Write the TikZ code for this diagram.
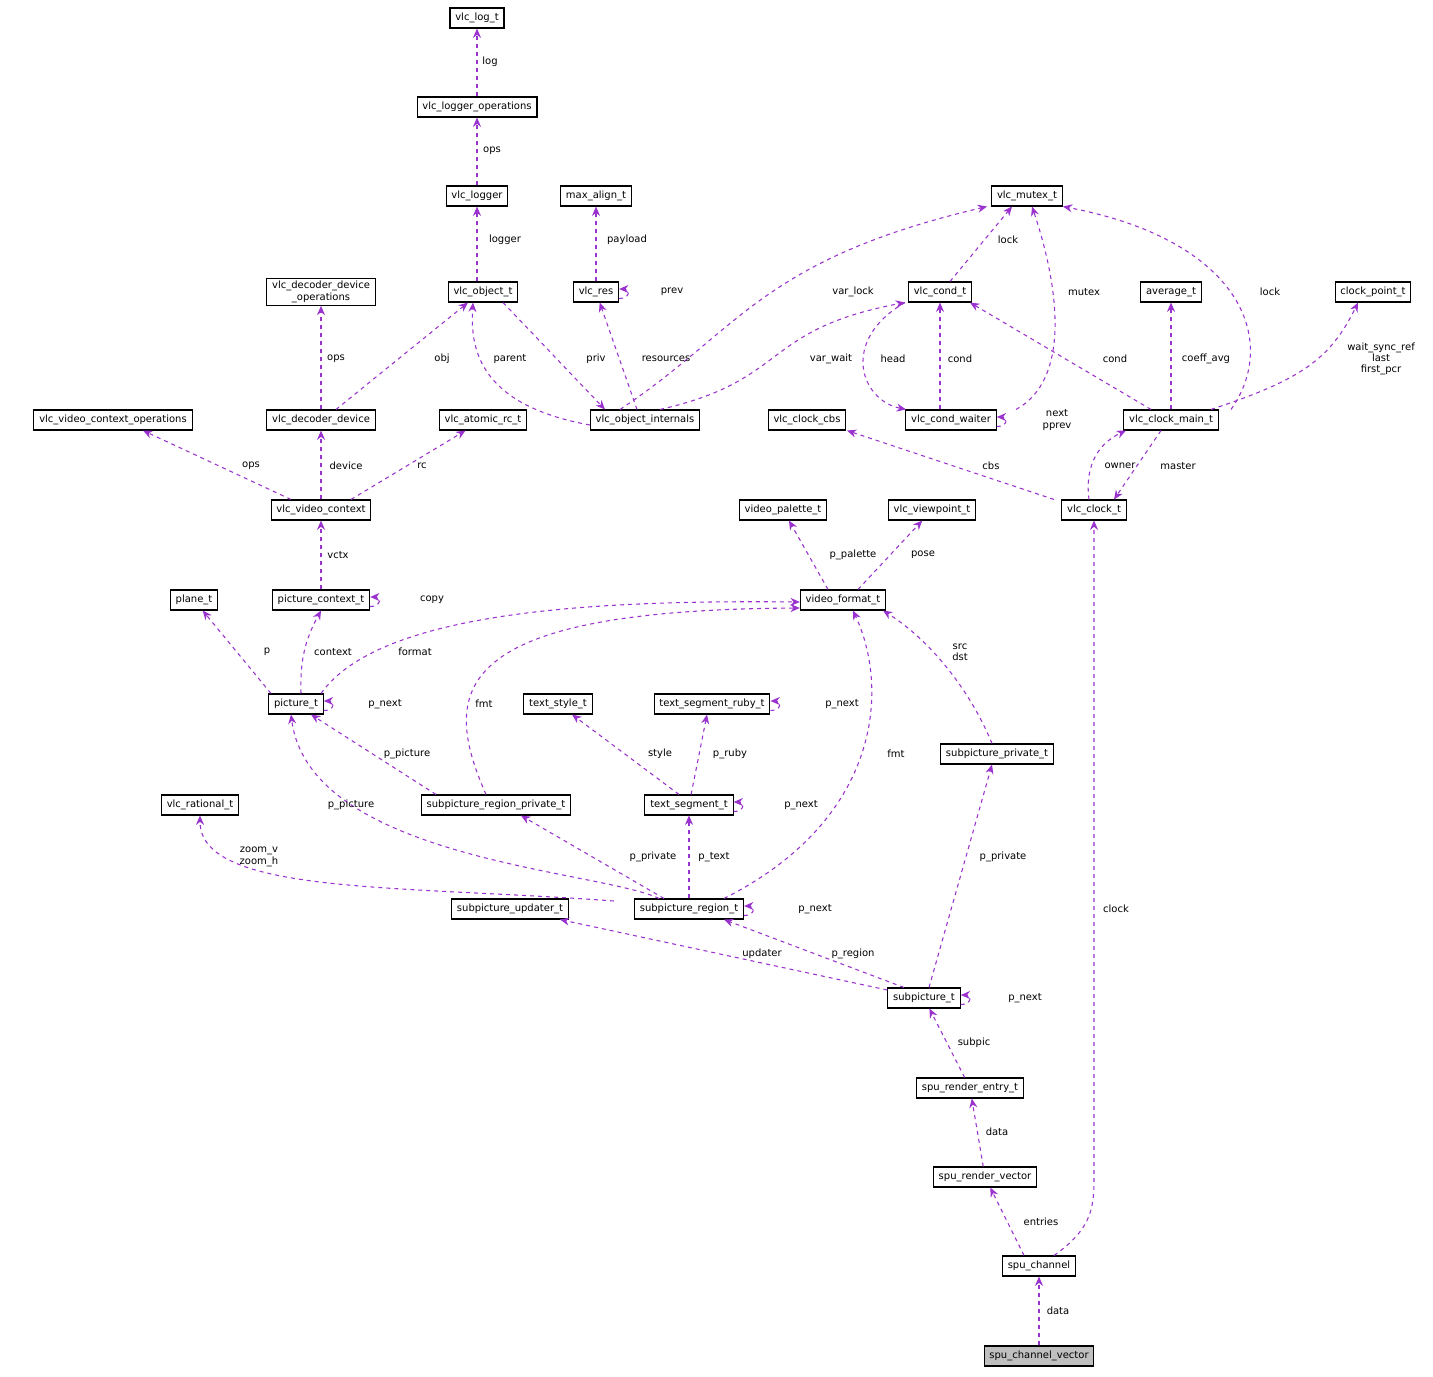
\documentclass[tikz,border=0pt]{standalone}
\usepackage{fontspec}
\setmainfont{DejaVu Sans}
\usetikzlibrary{arrows.meta,calc}
\definecolor{deppurple}{HTML}{9A32CD}
\tikzset{
  cls/.style={draw,line width=0.8pt,fill=white,inner xsep=4pt,inner ysep=2pt,minimum height=15pt,font=\fontsize{7.5}{8.5}\selectfont,align=center},
  dep/.style={draw=deppurple,dashed,line width=0.8pt,-{Stealth[length=7pt,width=6pt]}},
  lbl/.style={font=\fontsize{7.5}{8.5}\selectfont,align=center,inner sep=0pt}
}
\begin{document}
\begin{tikzpicture}[x=0.75pt,y=-0.75pt]
  \useasboundingbox (0,0) rectangle (1433,1376);

  % classes
  \node[cls] (logt)    at (477,18)  {vlc\_log\_t};
  \node[cls] (logops)  at (477,107) {vlc\_logger\_operations};
  \node[cls] (logger)  at (477,196) {vlc\_logger};
  \node[cls] (maxal)   at (596,196) {max\_align\_t};
  \node[cls] (mutex)   at (1027,196) {vlc\_mutex\_t};
  \node[cls] (decops)  at (321,292) {vlc\_decoder\_device\\\_operations};
  \node[cls] (objt)    at (483,292) {vlc\_object\_t};
  \node[cls] (res)     at (596,292) {vlc\_res};
  \node[cls] (cond)    at (940,292) {vlc\_cond\_t};
  \node[cls] (avg)     at (1171,292) {average\_t};
  \node[cls] (clkpt)   at (1373,292) {clock\_point\_t};
  \node[cls] (vcops)   at (113,420) {vlc\_video\_context\_operations};
  \node[cls] (decdev)  at (321,420) {vlc\_decoder\_device};
  \node[cls] (atomic)  at (483,420) {vlc\_atomic\_rc\_t};
  \node[cls] (objint)  at (645,420) {vlc\_object\_internals};
  \node[cls] (clkcbs)  at (807,420) {vlc\_clock\_cbs};
  \node[cls] (waiter)  at (951,420) {vlc\_cond\_waiter};
  \node[cls] (clkmain) at (1171,420) {vlc\_clock\_main\_t};
  \node[cls] (vctx)    at (321,510) {vlc\_video\_context};
  \node[cls] (vpal)    at (783,510) {video\_palette\_t};
  \node[cls] (vview)   at (932,510) {vlc\_viewpoint\_t};
  \node[cls] (clk)     at (1094,510) {vlc\_clock\_t};
  \node[cls] (plane)   at (194,600) {plane\_t};
  \node[cls] (picctx)  at (321,600) {picture\_context\_t};
  \node[cls] (vfmt)    at (843,600) {video\_format\_t};
  \node[cls] (pic)     at (296,704) {picture\_t};
  \node[cls] (tstyle)  at (558,704) {text\_style\_t};
  \node[cls] (truby)   at (712,704) {text\_segment\_ruby\_t};
  \node[cls] (subpriv) at (997,754) {subpicture\_private\_t};
  \node[cls] (rat)     at (200,805) {vlc\_rational\_t};
  \node[cls] (regpriv) at (496,805) {subpicture\_region\_private\_t};
  \node[cls] (tseg)    at (689,805) {text\_segment\_t};
  \node[cls] (upd)     at (510,909) {subpicture\_updater\_t};
  \node[cls] (subreg)  at (689,909) {subpicture\_region\_t};
  \node[cls] (sub)     at (924,998) {subpicture\_t};
  \node[cls] (entry)   at (970,1088) {spu\_render\_entry\_t};
  \node[cls] (rvec)    at (985,1177) {spu\_render\_vector};
  \node[cls] (chan)    at (1039,1266) {spu\_channel};
  \node[cls,fill=black!25] (chanvec) at (1039,1356) {spu\_channel\_vector};

  % dependencies
  \draw[dep] (logops) -- (logt);
  \draw[dep] (logger) -- (logops);
  \draw[dep] ($(objt.north)+(-6,0)$) -- (logger);
  \draw[dep] (res) -- (maxal);
  \draw[dep] ($(res.south east)+(0,-4)$) to[out=0,in=0,looseness=3] ($(res.east)+(0,-3)$);
  \draw[dep] (decdev) -- (decops);
  \draw[dep] ($(decdev.north)+(15,0)$) -- ($(objt.south)+(-15,0)$);
  \draw[dep] ($(objint.west)+(0,5)$) .. controls (480,405) and (470,350) .. ($(objt.south)+(-10,0)$);
  \draw[dep] ($(objt.south)+(20,0)$) -- ($(objint.north)+(-40,0)$);
  \draw[dep] ($(objint.north)+(-8,0)$) -- (res);
  \draw[dep] ($(objint.north)+(-25,0)$) .. controls (740,330) and (760,260) .. ($(mutex.south)+(-40,0)$);
  \draw[dep] ($(objint.north)+(15,0)$) .. controls (790,380) and (760,330) .. ($(cond.south)+(-35,0)$);
  \draw[dep] ($(cond.north)+(10,0)$) -- ($(mutex.south)+(-15,0)$);
  \draw[dep] ($(cond.south)+(-35,0)$) .. controls (840,340) and (860,400) .. ($(waiter.north)+(-45,0)$);
  \draw[dep] ($(waiter.north)+(-11,0)$) -- (cond.south);
  \draw[dep] ($(waiter.north)+(65,0)$) .. controls (1070,380) and (1060,290) .. ($(mutex.south)+(5,0)$);
  \draw[dep] ($(waiter.south east)+(0,-4)$) to[out=0,in=0,looseness=3] ($(waiter.east)+(0,-3)$);
  \draw[dep] ($(clkmain.north)+(-20,0)$) -- ($(cond.south)+(30,0)$);
  \draw[dep] (clkmain) -- (avg);
  \draw[dep] ($(clkmain.north)+(60,0)$) .. controls (1280,340) and (1240,240) .. ($(mutex.south east)+(0,0)$);
  \draw[dep] ($(clkmain.north)+(40,0)$) .. controls (1300,380) and (1330,360) .. ($(clkpt.south)+(-15,0)$);
  \draw[dep] ($(vctx.north)+(-30,0)$) -- ($(vcops.south)+(30,0)$);
  \draw[dep] (vctx) -- (decdev);
  \draw[dep] ($(vctx.north)+(30,0)$) -- (atomic);
  \draw[dep] ($(clk.north)+(-40,0)$) -- ($(clkcbs.south)+(40,0)$);
  \draw[dep] ($(clk.north)+(-5,0)$) .. controls (1085,470) and (1095,445) .. ($(clkmain.south)+(-45,0)$);
  \draw[dep] ($(clkmain.south)+(-10,0)$) -- ($(clk.north)+(20,0)$);
  \draw[dep] (picctx) -- (vctx);
  \draw[dep] ($(picctx.south east)+(0,-4)$) to[out=0,in=0,looseness=3] ($(picctx.east)+(0,-3)$);
  \draw[dep] ($(vfmt.north)+(-15,0)$) -- (vpal);
  \draw[dep] ($(vfmt.north)+(15,0)$) -- (vview);
  \draw[dep] ($(pic.north)+(-25,0)$) -- (plane);
  \draw[dep] ($(pic.north)+(5,0)$) .. controls (300,660) and (305,640) .. (picctx.south);
  \draw[dep] ($(pic.north)+(25,0)$) .. controls (380,610) and (600,600) .. ($(vfmt.west)+(0,2)$);
  \draw[dep] ($(pic.south east)+(0,-4)$) to[out=0,in=0,looseness=3] ($(pic.east)+(0,-3)$);
  \draw[dep] ($(regpriv.north)+(-10,0)$) .. controls (440,690) and (450,610) .. ($(vfmt.west)+(0,8)$);
  \draw[dep] ($(regpriv.north)+(-60,0)$) -- ($(pic.south)+(15,0)$);
  \draw[dep] ($(tseg.north)+(-10,0)$) -- (tstyle);
  \draw[dep] (tseg) -- ($(truby.south)+(-5,0)$);
  \draw[dep] ($(truby.south east)+(0,-4)$) to[out=0,in=0,looseness=3] ($(truby.east)+(0,-3)$);
  \draw[dep] ($(tseg.south east)+(0,-4)$) to[out=0,in=0,looseness=3] ($(tseg.east)+(0,-3)$);
  \draw[dep] ($(subreg.north)+(35,0)$) .. controls (880,820) and (890,690) .. ($(vfmt.south)+(10,0)$);
  \draw[dep] ($(subpriv.north)+(-5,0)$) .. controls (970,690) and (930,640) .. ($(vfmt.south)+(40,0)$);
  \draw[dep] ($(subreg.north)+(-30,0)$) .. controls (600,870) and (310,860) .. ($(pic.south)+(-5,0)$);
  \draw[dep] ($(subreg.west)+(-20,-8)$) .. controls (400,885) and (200,895) .. (rat.south);
  \draw[dep] ($(subreg.north)+(-25,0)$) -- ($(regpriv.south)+(25,0)$);
  \draw[dep] (subreg) -- (tseg);
  \draw[dep] ($(subreg.south east)+(0,-4)$) to[out=0,in=0,looseness=3] ($(subreg.east)+(0,-3)$);
  \draw[dep] ($(sub.west)+(0,-8)$) -- ($(upd.south)+(50,0)$);
  \draw[dep] ($(sub.north)+(-20,0)$) -- ($(subreg.south)+(35,0)$);
  \draw[dep] ($(sub.north)+(5,0)$) -- ($(subpriv.south)+(-5,0)$);
  \draw[dep] ($(sub.south east)+(0,-4)$) to[out=0,in=0,looseness=3] ($(sub.east)+(0,-3)$);
  \draw[dep] (entry) -- (sub);
  \draw[dep] (rvec) -- (entry);
  \draw[dep] ($(chan.north)+(-15,0)$) -- (rvec);
  \draw[dep] ($(chan.north)+(15,0)$) .. controls (1090,1230) and (1094,1210) .. (1094,1180) -- (clk.south);
  \draw[dep] (chanvec) -- (chan);

  % labels
  \node[lbl] at (490,62) {log};
  \node[lbl] at (492,151) {ops};
  \node[lbl] at (505,240) {logger};
  \node[lbl] at (627,240) {payload};
  \node[lbl] at (672,292) {prev};
  \node[lbl] at (336,359) {ops};
  \node[lbl] at (442,359) {obj};
  \node[lbl] at (510,359) {parent};
  \node[lbl] at (596,359) {priv};
  \node[lbl] at (666,359) {resources};
  \node[lbl] at (853,292) {var\_lock};
  \node[lbl] at (831,359) {var\_wait};
  \node[lbl] at (1008,240) {lock};
  \node[lbl] at (893,359) {head};
  \node[lbl] at (960,359) {cond};
  \node[lbl] at (1084,292) {mutex};
  \node[lbl] at (1057,420) {next\\pprev};
  \node[lbl] at (1270,292) {lock};
  \node[lbl] at (1115,359) {cond};
  \node[lbl] at (1206,359) {coeff\_avg};
  \node[lbl] at (1381,359) {wait\_sync\_ref\\last\\first\_pcr};
  \node[lbl] at (251,466) {ops};
  \node[lbl] at (346,466) {device};
  \node[lbl] at (422,466) {rc};
  \node[lbl] at (991,466) {cbs};
  \node[lbl] at (1120,466) {owner};
  \node[lbl] at (1178,466) {master};
  \node[lbl] at (338,555) {vctx};
  \node[lbl] at (432,600) {copy};
  \node[lbl] at (853,555) {p\_palette};
  \node[lbl] at (923,555) {pose};
  \node[lbl] at (267,652) {p};
  \node[lbl] at (333,652) {context};
  \node[lbl] at (415,652) {format};
  \node[lbl] at (960,652) {src\\dst};
  \node[lbl] at (385,704) {p\_next};
  \node[lbl] at (484,704) {fmt};
  \node[lbl] at (842,704) {p\_next};
  \node[lbl] at (660,754) {style};
  \node[lbl] at (730,754) {p\_ruby};
  \node[lbl] at (896,754) {fmt};
  \node[lbl] at (407,754) {p\_picture};
  \node[lbl] at (351,805) {p\_picture};
  \node[lbl] at (801,805) {p\_next};
  \node[lbl] at (259,857) {zoom\_v\\zoom\_h};
  \node[lbl] at (653,857) {p\_private};
  \node[lbl] at (714,857) {p\_text};
  \node[lbl] at (1003,857) {p\_private};
  \node[lbl] at (815,909) {p\_next};
  \node[lbl] at (1116,909) {clock};
  \node[lbl] at (762,954) {updater};
  \node[lbl] at (853,954) {p\_region};
  \node[lbl] at (1025,998) {p\_next};
  \node[lbl] at (974,1043) {subpic};
  \node[lbl] at (997,1132) {data};
  \node[lbl] at (1041,1222) {entries};
  \node[lbl] at (1058,1311) {data};
\end{tikzpicture}
\end{document}
